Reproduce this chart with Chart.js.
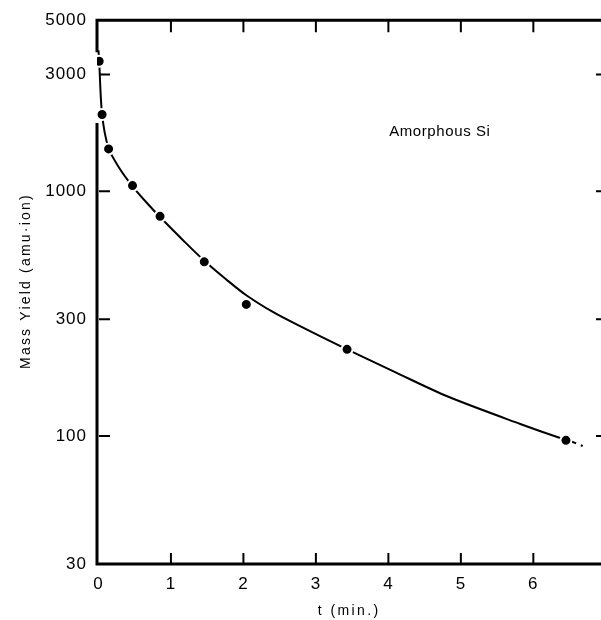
<!DOCTYPE html>
<html>
<head>
<meta charset="utf-8">
<script src="https://cdn.jsdelivr.net/npm/chart.js@4.4.1/dist/chart.umd.min.js"></script>
<style>
    html, body { margin: 0; padding: 0; background: #fff; }
    #wrap { width: 601px; height: 620px; }
</style>
</head>
<body>
<div id="wrap"><canvas id="yieldChart"></canvas></div>
<script>
// measured mass yield vs. time (min)
const pointTimes  = [0.01, 0.05, 0.14, 0.47, 0.85, 1.46, 2.04, 3.43, 6.45];
const pointYields = [3400, 2060, 1490, 1055, 790, 515, 345, 226, 96];

// hand-drawn fit through the points
const fitTimes  = [0, 0.01, 0.05, 0.14, 0.29, 0.47, 0.66, 0.86, 1.16, 1.46, 1.76, 2.04, 2.40, 2.74, 3.43, 4.10, 4.82, 5.82, 6.36, 6.45];
const fitYields = [3770, 3400, 2063, 1498, 1242, 1048, 902, 779, 634, 520, 437, 376, 322, 285, 226, 182, 145, 112, 98.4, 97];

// dashed continuation past the last point
const extTimes  = [6.45, 6.68];
const extYields = [97, 91];

const xTicks = [0, 1, 2, 3, 4, 5, 6];
const yTicks = [30, 100, 300, 1000, 3000, 5000];
const yInnerTicks = [100, 300, 1000, 3000];

const FONT = "'Liberation Sans', Arial, Helvetica, sans-serif";

const toXY = (xs, ys) => xs.map((x, i) => ({ x: x, y: ys[i] }));

// frame, inward tick marks and free text
const framePlugin = {
    id: "frame",

    beforeDraw(chart) {
        chart.ctx.letterSpacing = "1px";
    },

    beforeDatasetsDraw(chart) {
        const ctx = chart.ctx;
        const area = chart.chartArea;
        const xs = chart.scales.x;
        const ys = chart.scales.y;

        ctx.save();
        ctx.strokeStyle = "#000";
        ctx.lineCap = "butt";

        // axis lines (left one is broken where the curve runs along it)
        ctx.lineWidth = 3;
        ctx.beginPath();
        ctx.moveTo(area.left, area.top);
        ctx.lineTo(chart.width, area.top);
        ctx.moveTo(area.left, area.top - 1.5);
        ctx.lineTo(area.left, ys.getPixelForValue(3700));
        ctx.moveTo(area.left, ys.getPixelForValue(1900));
        ctx.lineTo(area.left, area.bottom + 1.5);
        ctx.moveTo(area.left, area.bottom);
        ctx.lineTo(chart.width, area.bottom);
        ctx.stroke();

        // inward ticks
        ctx.lineWidth = 2;
        ctx.beginPath();
        xTicks.slice(1).forEach(v => {
            const px = xs.getPixelForValue(v);
            ctx.moveTo(px, area.bottom);
            ctx.lineTo(px, area.bottom - 11);
            ctx.moveTo(px, area.top);
            ctx.lineTo(px, area.top + 12);
        });
        yInnerTicks.forEach(v => {
            const py = ys.getPixelForValue(v);
            ctx.moveTo(area.left + 2, py);
            ctx.lineTo(area.left + 13, py);
            ctx.moveTo(chart.width, py);
            ctx.lineTo(chart.width - 5, py);
        });
        ctx.stroke();
        ctx.restore();
    },

    afterDraw(chart) {
        const ctx = chart.ctx;
        const area = chart.chartArea;
        const xs = chart.scales.x;
        const ys = chart.scales.y;

        ctx.save();
        ctx.fillStyle = "#000";
        ctx.textAlign = "center";
        ctx.textBaseline = "middle";

        // sample label
        ctx.font = "15px " + FONT;
        ctx.letterSpacing = "0.6px";
        ctx.fillText("Amorphous Si", xs.getPixelForValue(4.71), ys.getPixelForValue(1742));

        // x title
        ctx.font = "14px " + FONT;
        ctx.letterSpacing = "2.4px";
        ctx.fillText("t (min.)", (area.left + area.right) / 2 + 4, 611);

        // y title
        ctx.letterSpacing = "2.2px";
        ctx.translate(26, (area.top + area.bottom) / 2 - 11);
        ctx.rotate(-Math.PI / 2);
        ctx.fillText("Mass Yield (amu\u00b7ion)", 0, 0);
        ctx.restore();
    }
};

new Chart(document.getElementById("yieldChart"), {

    type: "scatter",

    data: {
        datasets: [
            {
                label: "Measured",
                data: toXY(pointTimes, pointYields),
                showLine: false,
                pointRadius: 5.5,
                pointBackgroundColor: "#000",
                pointBorderColor: "#fff",
                pointBorderWidth: 2,
                order: 0
            },
            {
                label: "Fit",
                data: toXY(fitTimes, fitYields),
                showLine: true,
                borderColor: "#000",
                borderWidth: 2,
                pointRadius: 0,
                tension: 0.3,
                order: 1
            },
            {
                label: "Extension",
                data: toXY(extTimes, extYields),
                showLine: true,
                borderColor: "#000",
                borderWidth: 2,
                borderDash: [7, 5],
                borderDashOffset: -4,
                pointRadius: 0,
                order: 2
            }
        ]
    },

    options: {
        responsive: true,
        maintainAspectRatio: false,
        animation: false,
        events: [],

        layout: {
            padding: { top: 20, right: 0, bottom: 0, left: 0 }
        },

        plugins: {
            legend: { display: false },
            tooltip: { enabled: false }
        },

        scales: {
            x: {
                type: "linear",
                min: -0.02,
                max: 6.83,
                grid: { display: false, drawTicks: false },
                border: { display: false },
                afterBuildTicks: scale => {
                    scale.ticks = xTicks.map(v => ({ value: v }));
                },
                afterFit: scale => {
                    scale.height = 56;
                },
                ticks: {
                    padding: 10,
                    color: "#000",
                    maxRotation: 0,
                    font: { family: FONT, size: 17 },
                    callback: v => String(v)
                }
            },
            y: {
                type: "logarithmic",
                min: 30,
                max: 5000,
                grid: { display: false, drawTicks: false },
                border: { display: false },
                afterBuildTicks: scale => {
                    scale.ticks = yTicks.map(v => ({ value: v }));
                },
                afterFit: scale => {
                    scale.width = 97;
                },
                ticks: {
                    padding: 10,
                    color: "#000",
                    font: { family: FONT, size: 17 },
                    callback: v => String(v)
                }
            }
        }
    },

    plugins: [framePlugin]
});
</script>
</body>
</html>
